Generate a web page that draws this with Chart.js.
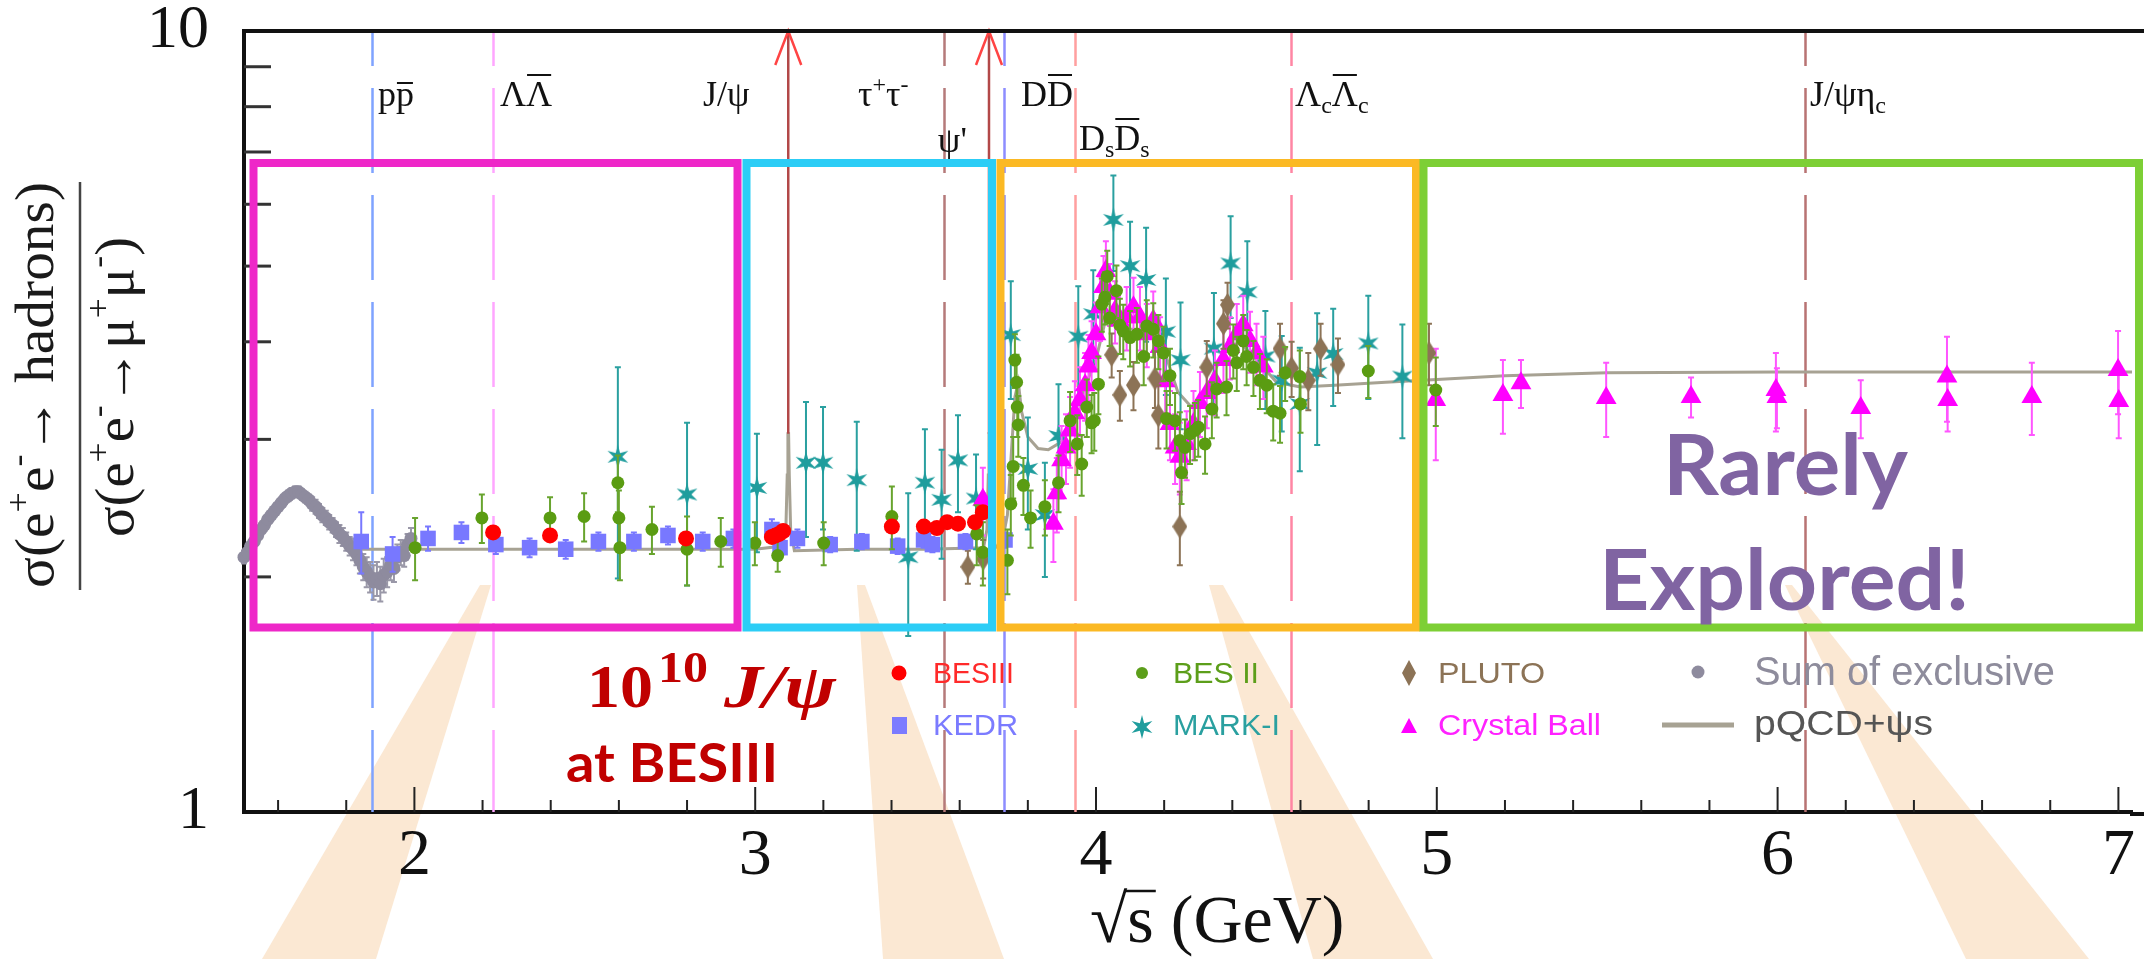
<!DOCTYPE html>
<html><head><meta charset="utf-8">
<script src="https://cdn.jsdelivr.net/npm/chart.js@4.4.1/dist/chart.umd.min.js"></script>
<style>html,body{margin:0;padding:0;background:#fff;overflow:hidden}canvas{display:block}</style>
</head><body>
<canvas id="c" width="2144" height="959"></canvas>
<script>
// ---------------- data ----------------
const xTickValues = [2, 3, 4, 5, 6, 7];
const xMinorTickValues = [1.6, 1.8, 2.2, 2.4, 2.6, 2.8, 3.2, 3.4, 3.6, 3.8, 4.2, 4.4, 4.6, 4.8, 5.2, 5.4, 5.6, 5.8, 6.2, 6.4, 6.6, 6.8];
const yTickValues = [1, 10];
const yMinorTickValues = [2, 3, 4, 5, 6, 7, 8, 9];

const exclX = [1.50,1.51,1.52,1.53,1.54,1.55,1.56,1.57,1.58,1.59,1.60,1.61,1.62,1.63,1.64,1.65,1.66,1.67,1.68,1.69,1.70,1.71,1.72,1.73,1.74,1.75,1.76,1.77,1.78,1.79,1.80,1.81,1.82,1.83,1.84,1.85,1.86,1.87,1.88,1.89,1.90,1.91,1.92,1.93,1.94,1.95,1.96,1.97,1.98,1.99];
const exclY = [2.12,2.15,2.19,2.22,2.26,2.30,2.33,2.37,2.40,2.43,2.46,2.49,2.52,2.54,2.56,2.57,2.57,2.55,2.53,2.51,2.48,2.46,2.43,2.40,2.38,2.35,2.33,2.30,2.27,2.25,2.22,2.19,2.17,2.14,2.10,2.06,2.03,2.00,1.97,1.99,1.96,2.01,2.03,2.07,2.05,2.12,2.15,2.13,2.20,2.24];
const exclErr = [0.04,0.04,0.04,0.04,0.04,0.04,0.04,0.04,0.04,0.04,0.04,0.04,0.04,0.04,0.04,0.04,0.04,0.04,0.04,0.04,0.05,0.05,0.05,0.05,0.05,0.05,0.05,0.05,0.06,0.06,0.06,0.06,0.07,0.07,0.08,0.08,0.09,0.09,0.10,0.10,0.10,0.10,0.09,0.09,0.08,0.08,0.08,0.07,0.07,0.07];

const kedrX = [1.844,1.936,2.040,2.138,2.239,2.338,2.444,2.540,2.644,2.744,2.846,2.936,3.049,3.073,3.124,3.220,3.313,3.418,3.494,3.520,3.617,3.733];
const kedrY = [2.22,2.14,2.24,2.28,2.20,2.18,2.17,2.22,2.22,2.26,2.22,2.24,2.30,2.18,2.24,2.20,2.22,2.19,2.23,2.20,2.22,2.23];
const kedrErr = [0.20,0.11,0.08,0.07,0.06,0.06,0.06,0.06,0.06,0.06,0.06,0.06,0.07,0.06,0.06,0.05,0.05,0.05,0.05,0.05,0.05,0.05];

const besiiiX = [2.231,2.398,2.797,3.049,3.060,3.070,3.082,3.401,3.495,3.533,3.563,3.595,3.645,3.668];
const besiiiY = [2.28,2.26,2.24,2.25,2.26,2.27,2.29,2.32,2.32,2.31,2.35,2.34,2.35,2.42];
const besiiiErr = [0.02,0.02,0.02,0.02,0.02,0.02,0.02,0.02,0.02,0.02,0.02,0.02,0.02,0.02];

const bes2X = [2.002,2.198,2.398,2.498,2.597,2.600,2.603,2.697,2.800,2.899,2.999,3.066,3.201,3.401,3.650,3.668,3.740,3.750,3.757,3.762,3.767,3.769,3.772,3.787,3.808,3.850,3.890,3.924,3.945,3.958,3.973,3.987,3.995,4.007,4.017,4.026,4.033,4.040,4.060,4.070,4.080,4.100,4.120,4.140,4.149,4.168,4.183,4.198,4.207,4.217,4.232,4.246,4.251,4.261,4.276,4.290,4.300,4.320,4.340,4.354,4.383,4.403,4.413,4.432,4.442,4.462,4.481,4.501,4.520,4.540,4.555,4.598,4.600,4.799,4.997];
const bes2Y = [2.18,2.38,2.38,2.39,2.64,2.38,2.18,2.30,2.17,2.22,2.21,2.13,2.21,2.39,2.27,2.15,2.10,2.48,2.77,3.79,3.55,3.30,3.13,2.62,2.38,2.46,2.64,3.17,2.96,2.79,3.30,3.15,3.17,3.53,4.47,4.56,4.85,4.29,4.65,4.20,4.13,4.05,4.09,3.83,4.19,4.15,4.01,3.87,3.19,3.62,3.17,2.99,2.72,2.93,3.05,3.08,3.11,2.96,3.28,3.48,3.50,3.90,3.76,4.01,3.83,3.71,3.57,3.52,3.26,3.24,3.65,3.61,3.33,3.67,3.47];
const bes2Err = [0.20,0.17,0.15,0.17,0.22,0.20,0.20,0.16,0.22,0.16,0.14,0.10,0.14,0.22,0.20,0.20,0.20,0.22,0.25,0.30,0.30,0.28,0.28,0.22,0.20,0.20,0.22,0.28,0.26,0.25,0.28,0.27,0.27,0.30,0.35,0.35,0.38,0.34,0.36,0.34,0.33,0.33,0.33,0.31,0.33,0.33,0.32,0.31,0.27,0.30,0.27,0.26,0.24,0.25,0.26,0.26,0.26,0.25,0.27,0.28,0.28,0.31,0.30,0.32,0.31,0.30,0.29,0.28,0.27,0.27,0.29,0.29,0.27,0.28,0.35];

const mark1X = [2.597,2.800,3.005,3.149,3.199,3.298,3.449,3.498,3.547,3.595,3.648,3.750,3.800,3.850,3.890,3.948,3.992,4.051,4.100,4.147,4.205,4.248,4.346,4.395,4.444,4.497,4.545,4.598,4.649,4.696,4.799,4.899];
const mark1Y = [2.85,2.55,2.60,2.80,2.80,2.66,2.12,2.64,2.51,2.82,2.52,4.08,2.75,2.40,3.03,4.06,4.34,5.73,5.00,4.80,4.12,3.79,3.92,5.04,4.63,3.83,3.57,3.33,3.65,3.86,3.98,3.61];
const mark1Err = [0.86,0.60,0.45,0.55,0.50,0.50,0.44,0.45,0.40,0.40,0.35,0.70,0.45,0.40,0.50,0.65,0.60,0.80,0.70,0.80,0.70,0.70,0.70,0.75,0.75,0.55,0.50,0.60,0.70,0.55,0.60,0.60];

const plutoX = [3.624,3.669,4.046,4.070,4.110,4.173,4.183,4.246,4.325,4.374,4.386,4.540,4.574,4.623,4.659,4.710,4.977];
const plutoY = [2.06,2.11,3.85,3.42,3.52,3.59,3.22,2.32,3.71,4.22,4.46,3.92,3.70,3.57,3.92,3.74,3.87];
const plutoErr = [0.10,0.12,0.25,0.25,0.25,0.30,0.30,0.25,0.30,0.30,0.30,0.30,0.30,0.30,0.30,0.30,0.35];

const cbX = [3.668,3.875,3.885,3.899,3.912,3.924,3.938,3.953,3.968,3.978,3.987,4.000,4.012,4.022,4.029,4.041,4.056,4.070,4.090,4.110,4.129,4.149,4.168,4.188,4.203,4.217,4.232,4.246,4.266,4.286,4.305,4.325,4.349,4.374,4.393,4.413,4.432,4.452,4.471,4.491,4.997,5.194,5.247,5.497,5.746,5.995,5.998,6.244,6.497,6.499,6.746,6.999,7.001];
const cbY = [2.51,2.34,2.56,2.82,2.93,3.08,3.24,3.37,3.52,3.72,3.87,4.09,4.43,4.70,4.93,4.61,4.38,4.26,4.30,4.43,4.30,4.09,4.26,3.94,3.56,3.14,2.93,2.85,2.96,3.14,3.34,3.44,3.56,3.79,3.94,4.09,4.20,4.01,3.87,3.72,3.37,3.42,3.54,3.39,3.40,3.47,3.40,3.29,3.61,3.37,3.40,3.68,3.36];
const cbErr = [0.25,0.25,0.28,0.30,0.30,0.32,0.32,0.34,0.35,0.36,0.38,0.40,0.42,0.45,0.45,0.42,0.40,0.40,0.40,0.40,0.40,0.38,0.38,0.36,0.35,0.32,0.30,0.30,0.30,0.32,0.32,0.34,0.34,0.35,0.36,0.38,0.38,0.36,0.35,0.34,0.55,0.37,0.25,0.37,0.20,0.40,0.30,0.28,0.45,0.30,0.36,0.45,0.35];

const pqcdX = [1.84,2.20,2.60,3.00,3.080,3.090,3.094,3.096,3.098,3.100,3.104,3.115,3.30,3.50,3.670,3.680,3.684,3.686,3.688,3.690,3.694,3.705,3.725,3.740,3.752,3.762,3.772,3.782,3.800,3.830,3.860,3.900,3.950,4.000,4.030,4.060,4.100,4.160,4.200,4.240,4.280,4.320,4.370,4.420,4.470,4.530,4.600,4.700,4.850,5.000,5.200,5.500,6.000,6.500,7.100];
const pqcdY = [2.17,2.17,2.17,2.17,2.19,2.30,2.70,3.05,3.05,2.70,2.30,2.16,2.17,2.17,2.18,2.30,2.70,3.05,3.05,2.70,2.30,2.18,2.22,2.40,2.90,3.40,3.55,3.25,3.02,2.92,2.91,2.98,3.35,3.80,4.30,4.35,4.15,4.15,3.90,3.45,3.30,3.45,3.85,4.00,3.80,3.55,3.50,3.52,3.55,3.58,3.62,3.65,3.66,3.66,3.66];

const thrX = [1.877, 2.231, 3.554, 3.730, 3.937, 4.573, 6.081];
const thrColors = ['#7fa3ff', '#ffa6ff', '#b57a7a', '#8d8dff', '#ff9f9f', '#ff86a4', '#b87373'];
const arrowX = [3.097, 3.686];
const arrowBase = 3.05;

// ---------------- helpers ----------------
function starImg(color, R, r) {
  const c = document.createElement('canvas'); const s = Math.ceil(2 * R + 2);
  c.width = s; c.height = s; const g = c.getContext('2d');
  g.fillStyle = color; g.beginPath();
  for (let k = 0; k < 12; k++) {
    const rr = k % 2 === 0 ? R : r; const a = -Math.PI / 2 + k * Math.PI / 6;
    const px = s / 2 + rr * Math.cos(a), py = s / 2 + rr * Math.sin(a);
    k ? g.lineTo(px, py) : g.moveTo(px, py);
  }
  g.closePath(); g.fill(); return c;
}
function diamondImg(color, w, h) {
  const c = document.createElement('canvas'); c.width = w; c.height = h;
  const g = c.getContext('2d'); g.fillStyle = color; g.beginPath();
  g.moveTo(w / 2, 0); g.lineTo(w, h / 2); g.lineTo(w / 2, h); g.lineTo(0, h / 2); g.closePath(); g.fill();
  return c;
}
const mk = (xs, ys) => xs.map((x, i) => ({ x: x, y: ys[i] }));

function measureParts(g, parts, size, family) {
  let w = 0;
  for (const p of parts) { g.font = (p.st || '') + ' ' + (p.s || size) + 'px ' + family; w += g.measureText(p.t).width; }
  return w;
}
function drawParts(g, x, y, parts, size, family, color, target) {
  g.save(); g.fillStyle = color; g.strokeStyle = color; g.textBaseline = 'alphabetic'; g.textAlign = 'left';
  const w0 = measureParts(g, parts, size, family);
  g.translate(x, y);
  if (target) g.scale(target / w0, 1);
  let cx = 0;
  for (const p of parts) {
    const s = p.s || size; g.font = (p.st || '') + ' ' + s + 'px ' + family;
    g.fillText(p.t, cx, p.dy || 0);
    const w = g.measureText(p.t).width;
    if (p.over) { g.lineWidth = 2; g.beginPath(); const oy = -(p.oh || s * 0.78); g.moveTo(cx + 1, oy); g.lineTo(cx + w - 1, oy); g.stroke(); }
    cx += w;
  }
  g.restore();
}
function fitText(g, text, x, y, font, color, target) {
  g.save(); g.font = font; g.fillStyle = color; g.textBaseline = 'alphabetic'; g.textAlign = 'left';
  const w = g.measureText(text).width; g.translate(x, y); if (target) g.scale(target / w, 1);
  g.fillText(text, 0, 0); g.restore();
}

const SERIF = '"Liberation Serif", "DejaVu Serif", serif';
const SANS = '"Liberation Sans", Arial, sans-serif';
const BOLDSANS = 'Lato, "Open Sans", "Liberation Sans", sans-serif';

const starPt = starImg('#1f9d9d', 12, 4.3);
const diamondPt = diamondImg('#8c7356', 15, 24);
const starLeg = starImg('#1f9d9d', 12, 4.3);

const wedges = [
  [[480, 585], [491, 585], [376, 959], [262, 959]],
  [[857, 585], [865, 585], [1004, 959], [883, 959]],
  [[1209, 585], [1223, 585], [1433, 959], [1313, 959]],
  [[1785, 585], [1792, 585], [2089, 959], [1966, 959]]
];
const boxes = [
  { c: '#ee27c8', x1: 253.5, x2: 737.5 },
  { c: '#2ccdf6', x1: 746.5, x2: 992 },
  { c: '#fbb924', x1: 1000.5, x2: 1416 },
  { c: '#7dcf35', x1: 1423.5, x2: 2139 }
];

const deco = {
  id: 'deco',
  beforeDraw(chart) {
    const g = chart.ctx; g.save();
    g.fillStyle = '#fff'; g.fillRect(0, 0, chart.width, chart.height);
    g.fillStyle = '#fbe8d3';
    for (const w of wedges) { g.beginPath(); g.moveTo(w[0][0], w[0][1]); for (let k = 1; k < w.length; k++) g.lineTo(w[k][0], w[k][1]); g.closePath(); g.fill(); }
    g.restore();
  },
  beforeDatasetsDraw(chart) {
    const g = chart.ctx, xs = chart.scales.x, a = chart.chartArea;
    g.save();
    thrX.forEach((v, i) => {
      const px = Math.round(xs.getPixelForValue(v)) + 0.5;
      g.strokeStyle = thrColors[i]; g.lineWidth = 2.5; g.setLineDash([85, 22]); g.lineDashOffset = 50;
      g.beginPath(); g.moveTo(px, a.top); g.lineTo(px, a.bottom); g.stroke();
    });
    g.restore();
  },
  beforeDatasetDraw(chart, args) {
    const ds = chart.data.datasets[args.index]; if (!ds.errs) return;
    const g = chart.ctx, xs = chart.scales.x, ys = chart.scales.y;
    g.save(); g.strokeStyle = ds.errColor; g.lineWidth = 2;
    ds.data.forEach((p, i) => {
      const e = ds.errs[i]; if (!e) return;
      const px = xs.getPixelForValue(p.x);
      const y1 = ys.getPixelForValue(Math.max(p.y - e, 1.01)), y2 = ys.getPixelForValue(p.y + e);
      g.beginPath(); g.moveTo(px, y1); g.lineTo(px, y2);
      g.moveTo(px - 3, y1); g.lineTo(px + 3, y1); g.moveTo(px - 3, y2); g.lineTo(px + 3, y2); g.stroke();
    });
    g.restore();
  },
  afterDatasetsDraw(chart) {
    const g = chart.ctx, xs = chart.scales.x, ys = chart.scales.y, a = chart.chartArea;
    g.save();
    arrowX.forEach(v => {
      const px = xs.getPixelForValue(v);
      g.strokeStyle = '#b24848'; g.lineWidth = 2.5; g.beginPath(); g.moveTo(px, ys.getPixelForValue(arrowBase)); g.lineTo(px, a.top); g.stroke();
      g.strokeStyle = '#ff4444'; g.lineWidth = 2.5; g.beginPath(); g.moveTo(px - 13, a.top + 34); g.lineTo(px, a.top); g.lineTo(px + 13, a.top + 34); g.stroke();
    });
    g.restore();
  },
  afterDraw(chart) {
    const g = chart.ctx, xs = chart.scales.x, ys = chart.scales.y, a = chart.chartArea;
    g.save();
    // top frame and bottom-axis extension to the canvas edge
    g.strokeStyle = '#111'; g.lineWidth = 4;
    g.beginPath(); g.moveTo(a.left - 2, a.top); g.lineTo(chart.width, a.top); g.stroke();
    g.beginPath(); g.moveTo(a.right - 2, a.bottom + 2); g.lineTo(chart.width, a.bottom + 2); g.stroke();
    // ticks on x
    g.lineWidth = 2; g.strokeStyle = '#222';
    xTickValues.forEach(v => { const px = xs.getPixelForValue(v); g.beginPath(); g.moveTo(px, a.bottom); g.lineTo(px, a.bottom - 25); g.stroke(); });
    xMinorTickValues.forEach(v => { const px = xs.getPixelForValue(v); g.beginPath(); g.moveTo(px, a.bottom); g.lineTo(px, a.bottom - 12); g.stroke(); });
    g.lineWidth = 3; g.strokeStyle = '#333';
    yMinorTickValues.forEach(v => { const py = ys.getPixelForValue(v); g.beginPath(); g.moveTo(a.left, py); g.lineTo(a.left + 27, py); g.stroke(); });
    g.restore();

    // threshold labels
    const px = v => xs.getPixelForValue(v);
    drawParts(g, px(1.893), 106, [{ t: 'p' }, { t: 'p', over: true, oh: 23 }], 36, SERIF, '#111');
    drawParts(g, px(2.251), 106, [{ t: 'Λ' }, { t: 'Λ', over: true, oh: 31 }], 36, SERIF, '#111');
    drawParts(g, px(2.847), 106, [{ t: 'J/ψ' }], 36, SERIF, '#111');
    drawParts(g, px(3.302), 106, [{ t: 'τ' }, { t: '+', s: 24, dy: -14 }, { t: 'τ' }, { t: '-', s: 24, dy: -14 }], 36, SERIF, '#111');
    drawParts(g, px(3.536), 152, [{ t: "ψ'" }], 36, SERIF, '#111');
    drawParts(g, px(3.780), 106, [{ t: 'D' }, { t: 'D', over: true, oh: 31 }], 36, SERIF, '#111');
    drawParts(g, px(3.950), 150, [{ t: 'D' }, { t: 's', s: 24, dy: 7 }, { t: 'D', over: true, oh: 31 }, { t: 's', s: 24, dy: 7 }], 36, SERIF, '#111');
    drawParts(g, px(4.584), 106, [{ t: 'Λ' }, { t: 'c', s: 24, dy: 7 }, { t: 'Λ', over: true, oh: 31 }, { t: 'c', s: 24, dy: 7 }], 36, SERIF, '#111');
    drawParts(g, px(6.095), 106, [{ t: 'J/ψη' }, { t: 'c', s: 24, dy: 7 }], 36, SERIF, '#111');

    // overlay boxes
    g.save(); g.lineWidth = 8;
    boxes.forEach(b => { g.strokeStyle = b.c; g.strokeRect(b.x1, 163, b.x2 - b.x1, 464.5); });
    g.restore();

    // annotations
    fitText(g, 'Rarely', 1663, 495, 'bold 84px ' + BOLDSANS, '#8064a2', 245);
    fitText(g, 'Explored!', 1599, 610, 'bold 84px ' + BOLDSANS, '#8064a2', 371);
    fitText(g, '10', 587, 707, 'bold 62px ' + SERIF, '#c00000', 66);
    fitText(g, '10', 658, 682, 'bold 44px ' + SERIF, '#c00000', 50);
    fitText(g, 'J/ψ', 724, 707, 'italic bold 62px ' + SERIF, '#c00000', 112);
    fitText(g, 'at BESIII', 566, 782, 'bold 54px ' + BOLDSANS, '#c00000', 212);

    // legend
    g.save();
    g.fillStyle = '#ff0000'; g.beginPath(); g.arc(899, 673, 7.5, 0, Math.PI * 2); g.fill();
    g.fillStyle = '#5c9e1a'; g.beginPath(); g.arc(1142, 673, 6, 0, Math.PI * 2); g.fill();
    g.drawImage(diamondImg('#8c7356', 14, 26), 1402, 660);
    g.fillStyle = '#8e8b9e'; g.beginPath(); g.arc(1698, 672, 6.5, 0, Math.PI * 2); g.fill();
    g.fillStyle = '#7b7bff'; g.fillRect(892, 717, 15, 17);
    g.drawImage(starLeg, 1142 - starLeg.width / 2, 727 - starLeg.height / 2);
    g.fillStyle = '#ff00ff'; g.beginPath(); g.moveTo(1409, 718); g.lineTo(1417, 733); g.lineTo(1401, 733); g.closePath(); g.fill();
    g.strokeStyle = '#a7a293'; g.lineWidth = 5; g.beginPath(); g.moveTo(1662, 725); g.lineTo(1734, 725); g.stroke();
    g.restore();
    fitText(g, 'BESIII', 933, 683, '29px ' + SANS, '#ff2a2a', 81);
    fitText(g, 'BES II', 1173, 683, '29px ' + SANS, '#5c9e1a', 86);
    fitText(g, 'PLUTO', 1438, 683, '29px ' + SANS, '#8c7356', 107);
    fitText(g, 'Sum of exclusive', 1754, 685, '40px ' + SANS, '#8e8c9c', 301);
    fitText(g, 'KEDR', 933, 735, '29px ' + SANS, '#7b7bff', 85);
    fitText(g, 'MARK-I', 1173, 735, '29px ' + SANS, '#2aa0a0', 107);
    fitText(g, 'Crystal Ball', 1438, 735, '29px ' + SANS, '#ff22ff', 163);
    fitText(g, 'pQCD+ψs', 1754, 735, '35px ' + SANS, '#555555', 179);

    // y title (fraction)
    g.save(); g.translate(53, 588); g.rotate(-Math.PI / 2);
    drawParts(g, 0, 0, [{ t: 'σ(e' }, { t: '+', s: 34, dy: -24 }, { t: 'e' }, { t: '-', s: 34, dy: -24 }, { t: '→ hadrons)' }], 54, SERIF, '#1a1a1a', 406);
    g.restore();
    g.save(); g.translate(133, 537); g.rotate(-Math.PI / 2);
    drawParts(g, 0, 0, [{ t: 'σ(e' }, { t: '+', s: 34, dy: -24 }, { t: 'e' }, { t: '-', s: 34, dy: -24 }, { t: '→μ' }, { t: '+', s: 34, dy: -24 }, { t: 'μ' }, { t: '-', s: 34, dy: -24 }, { t: ')' }], 54, SERIF, '#1a1a1a', 300);
    g.restore();
    g.save(); g.strokeStyle = '#444'; g.lineWidth = 2.5; g.beginPath(); g.moveTo(80, 182); g.lineTo(80, 590); g.stroke(); g.restore();

    // x title
    g.save(); g.fillStyle = '#111'; g.strokeStyle = '#111'; g.font = '68px ' + SERIF; g.textBaseline = 'alphabetic';
    let tx = 1090; g.fillText('√', tx, 942); tx += g.measureText('√').width;
    const sw = g.measureText('s').width; g.fillText('s', tx, 942);
    g.lineWidth = 2.5; g.beginPath(); g.moveTo(tx - 2, 891); g.lineTo(tx + sw + 2, 891); g.stroke();
    tx += sw; g.fillText(' (GeV)', tx, 942);
    g.restore();
  }
};

const ds = (label, xs, ys, errs, style, radius, color, errColor) => ({
  label, data: mk(xs, ys), errs, errColor, pointStyle: style, pointRadius: radius,
  backgroundColor: color, borderColor: color, borderWidth: 0, showLine: false, clip: false
});

const chart = new Chart(document.getElementById('c'), {
  type: 'scatter',
  data: {
    datasets: [
      ds('BESIII', besiiiX, besiiiY, besiiiErr, 'circle', 8, '#ff0000', '#ff3030'),
      ds('BES II', bes2X, bes2Y, bes2Err, 'circle', 6.5, '#5a9c12', '#68a42e'),
      ds('KEDR', kedrX, kedrY, kedrErr, 'rect', 11, '#7878ff', '#7878ff'),
      ds('PLUTO', plutoX, plutoY, plutoErr, diamondPt, 10, '#8c7356', '#8c7356'),
      ds('Crystal Ball', cbX, cbY, cbErr, 'triangle', 12, '#ff00ff', '#ff55ff'),
      ds('MARK-I', mark1X, mark1Y, mark1Err, starPt, 10, '#1f9d9d', '#2aa0a0'),
      ds('Sum of exclusive', exclX, exclY, exclErr, 'circle', 6.5, '#8e8b9e', '#9a98a8'),
      { label: 'pQCD+ψs', data: mk(pqcdX, pqcdY), showLine: true, pointRadius: 0, borderColor: '#a7a293', borderWidth: 3, tension: 0, clip: true }
    ]
  },
  options: {
    responsive: false, animation: false, devicePixelRatio: 1, events: [],
    layout: { padding: { top: 31, right: 0, bottom: 0, left: 0 } },
    plugins: { legend: { display: false }, tooltip: { enabled: false } },
    scales: {
      x: {
        type: 'linear', min: 1.5, max: 7.076,
        afterBuildTicks: s => { s.ticks = xTickValues.map(v => ({ value: v })); },
        afterFit: s => { s.height = 147; s.paddingLeft = 0; s.paddingRight = 0; },
        grid: { display: false, drawTicks: false },
        border: { display: true, color: '#111', width: 4 },
        ticks: { autoSkip: false, maxRotation: 0, padding: 12, color: '#111', font: { family: 'Liberation Serif', size: 66, lineHeight: 1 }, callback: v => String(v) }
      },
      y: {
        type: 'logarithmic', min: 1, max: 10,
        afterBuildTicks: s => { s.ticks = yTickValues.map(v => ({ value: v })); },
        afterFit: s => { s.width = 244; s.paddingTop = 0; s.paddingBottom = 0; },
        grid: { display: false, drawTicks: false },
        border: { display: true, color: '#111', width: 4 },
        ticks: { autoSkip: false, padding: 35, color: '#111', font: { family: 'Liberation Serif', size: 62, lineHeight: 1 }, callback: v => String(v) }
      }
    }
  },
  plugins: [deco]
});

// pin the plot frame to the reference geometry: top at 31 px, 1 GeV = 340.8 px from x=1.5 at the left axis
(function pin() {
  for (let k = 0; k < 3; k++) {
    const a = chart.chartArea;
    const pad = chart.options.layout.padding;
    const top = Math.max(0, (pad.top || 0) + (31 - a.top));
    chart.options.layout.padding = { top: top, right: 0, bottom: 0, left: 0 };
    chart.options.scales.x.max = 1.5 + (a.right - a.left) / 340.8;
    chart.update();
  }
})();
</script>
</body></html>
